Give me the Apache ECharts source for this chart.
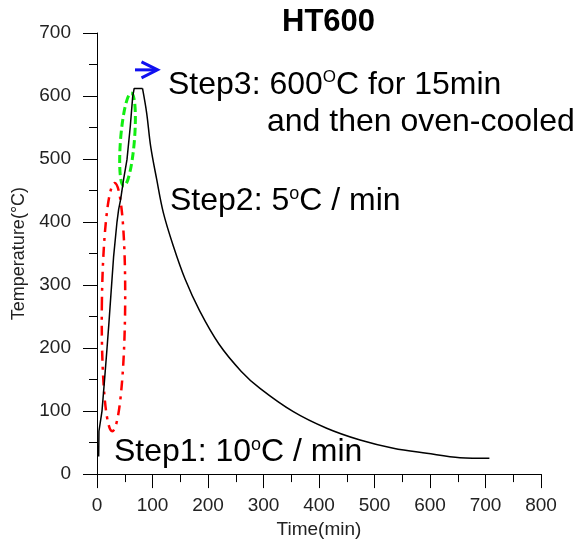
<!DOCTYPE html>
<html>
<head>
<meta charset="utf-8">
<script src="https://cdn.jsdelivr.net/npm/echarts@6/dist/echarts.min.js"></script>
<style>html,body{margin:0;padding:0;background:#fff}#c{width:581px;height:544px}</style>
</head>
<body>
<div id="c"></div>
<script>
// ---- data ----
// heating + 15 min hold
const heatTime = [3, 3.5, 9, 13.8, 18, 21.5, 25.8, 30, 36, 39, 42.6, 48, 54, 60, 64.3, 67, 82];
const heatTemp = [28, 68, 100, 152, 199, 240, 294, 346, 400, 420, 436, 468, 499, 552, 599, 612, 612];
// oven cooling
const coolTime = [82, 89.5, 96.7, 107.5, 119.5, 137.5, 158.5, 185, 220, 260, 293.7, 353.7, 413.8, 474, 534, 594, 654, 707];
const coolTemp = [612, 573, 520, 468, 415, 362, 310, 259, 206, 163, 136, 99, 72.7, 54, 41, 33, 26, 25];
const xTicks = [0, 100, 200, 300, 400, 500, 600, 700, 800];
const yTicks = [0, 100, 200, 300, 400, 500, 600, 700];
// annotation ellipses: [centre time, centre temp, half-width (min), half-height (°C), tilt (rad)]
const redEllipse   = [29.7, 265, 21, 197, -0.01];
const greenEllipse = [55, 531, 12.5, 74, -0.08];
// blue arrow: [t0, T0, t1, T1]
const blueArrow = [68.5, 641.5, 109, 641.5];

const heatCurve = heatTime.map((t, i) => [t, heatTemp[i]]);
const coolCurve = coolTime.map((t, i) => [t, coolTemp[i]]);

function ellipseRender(color, dash, width) {
  return function (params, api) {
    const c = api.coord([api.value(0), api.value(1)]);
    const s = api.size([api.value(2), api.value(3)]);
    return {
      type: 'ellipse',
      x: c[0], y: c[1],
      rotation: api.value(4),
      shape: { cx: 0, cy: 0, rx: s[0], ry: s[1] },
      style: { fill: 'none', stroke: color, lineWidth: width, lineDash: dash }
    };
  };
}

const FF = 'Liberation Sans, Arial, sans-serif';
const chart = echarts.init(document.getElementById('c'));
const mainTxt = { fontSize: 32, fontFamily: FF, color: '#000', lineHeight: 32 };
chart.setOption({
  animation: false,
  backgroundColor: '#fff',
  title: {
    text: 'HT600', left: 277, top: 2,
    textStyle: { fontSize: 31, fontWeight: 'bold', color: '#000', fontFamily: FF }
  },
  grid: { left: 97, right: 40, top: 33, bottom: 68 },
  xAxis: {
    type: 'value', min: xTicks[0], max: xTicks[xTicks.length - 1], interval: 100,
    name: 'Time(min)', nameLocation: 'middle', nameGap: 44,
    nameTextStyle: { fontSize: 19, color: '#222', fontFamily: FF },
    axisLine: { lineStyle: { color: '#000', width: 1 } },
    axisTick: { length: 14, lineStyle: { color: '#000' } },
    minorTick: { show: true, splitNumber: 2, length: 8, lineStyle: { color: '#000' } },
    axisLabel: { fontSize: 19, color: '#222', margin: 22, fontFamily: FF },
    splitLine: { show: false }
  },
  yAxis: {
    type: 'value', min: yTicks[0], max: yTicks[yTicks.length - 1], interval: 100,
    name: 'Temperature(°C)', nameLocation: 'middle', nameGap: 67,
    nameTextStyle: { fontSize: 18, color: '#222', fontFamily: FF },
    axisLine: { show: true, lineStyle: { color: '#000', width: 1 } },
    axisTick: { show: true, length: 14, lineStyle: { color: '#000' } },
    minorTick: { show: true, splitNumber: 2, length: 8, lineStyle: { color: '#000' } },
    axisLabel: { fontSize: 19, color: '#222', margin: 26, fontFamily: FF },
    splitLine: { show: false }
  },
  series: [
    {
      type: 'line', data: heatCurve, showSymbol: false, symbol: 'none',
      lineStyle: { color: '#000', width: 1.5 }, z: 5
    },
    {
      type: 'line', data: coolCurve, showSymbol: false, symbol: 'none', smooth: 0.35,
      lineStyle: { color: '#000', width: 1.5 }, z: 5
    },
    {
      type: 'custom', data: [redEllipse], renderItem: ellipseRender('#ff0000', [10, 6, 3, 6], 2.5), z: 4
    },
    {
      type: 'custom', data: [greenEllipse], renderItem: ellipseRender('#11ee11', [8, 4], 3), z: 4
    },
    {
      type: 'custom', data: [blueArrow], z: 6,
      renderItem: function (params, api) {
        const p0 = api.coord([api.value(0), api.value(1)]);
        const p1 = api.coord([api.value(2), api.value(3)]);
        const st = { stroke: '#1010f0', lineWidth: 3, fill: 'none' };
        return {
          type: 'group',
          children: [
            { type: 'line', shape: { x1: p0[0], y1: p0[1], x2: p1[0] - 1, y2: p1[1] }, style: st },
            { type: 'polyline', shape: { points: [[p1[0] - 16, p1[1] - 8], [p1[0], p1[1]], [p1[0] - 16, p1[1] + 8]] }, style: st }
          ]
        };
      }
    }
  ],
  graphic: [
    {
      type: 'text', left: 168, top: 69,
      style: {
        text: '{m|Step3: 600}{s|O}{m|C for 15min}',
        rich: { m: mainTxt, s: { fontSize: 17, lineHeight: 26, verticalAlign: 'top', color: '#000', fontFamily: FF } }
      }
    },
    {
      type: 'text', left: 267, top: 106,
      style: { text: 'and then oven-cooled', fontSize: 32, fontFamily: FF, fill: '#000' }
    },
    {
      type: 'text', left: 170, top: 185,
      style: {
        text: '{m|Step2: 5}{s|o}{m|C / min}',
        rich: { m: mainTxt, s: { fontSize: 18, lineHeight: 18, verticalAlign: 'top', color: '#000', fontFamily: FF } }
      }
    },
    {
      type: 'text', left: 114, top: 436,
      style: {
        text: '{m|Step1: 10}{s|o}{m|C / min}',
        rich: { m: mainTxt, s: { fontSize: 18, lineHeight: 18, verticalAlign: 'top', color: '#000', fontFamily: FF } }
      }
    }
  ]
});
</script>
</body>
</html>
